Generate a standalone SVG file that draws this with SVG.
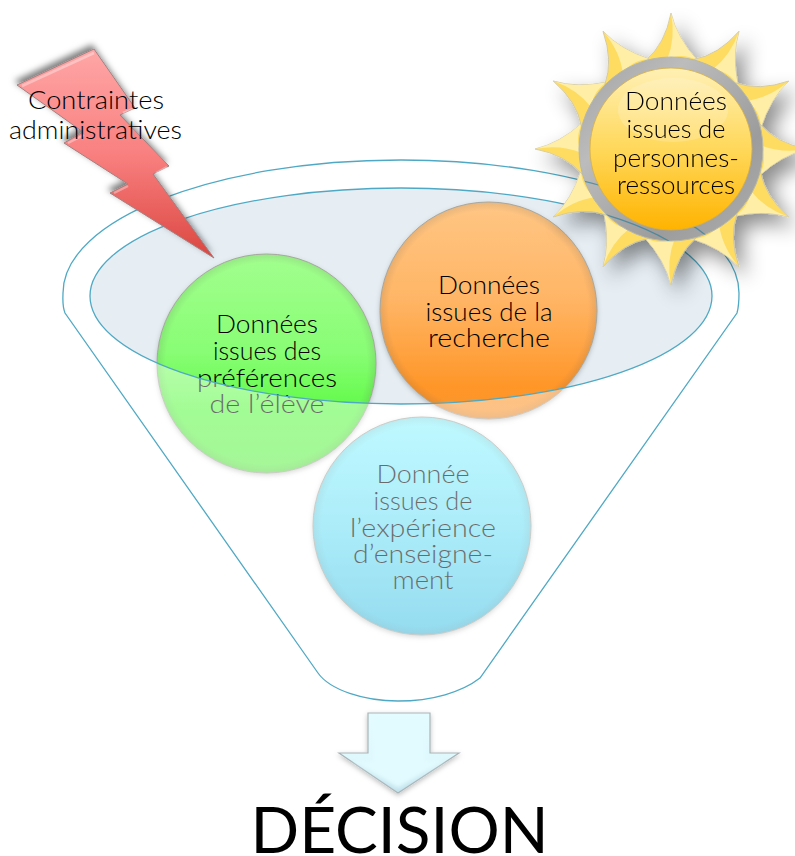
<svg xmlns="http://www.w3.org/2000/svg" xmlns:xlink="http://www.w3.org/1999/xlink" width="795" height="856" viewBox="0 0 795 856">
<style>
text{font-family:"Lato","Liberation Sans",sans-serif;font-weight:300;font-size:26px;fill:#000;text-anchor:middle}
.line{fill:none;stroke:#4fa9c4;stroke-width:1.3}
.edge{fill:url(#vignette);stroke:#a8a8a0;stroke-width:1}
</style>
<defs>
<linearGradient id="gGreen" x1="0" y1="0" x2="0" y2="1"><stop offset="0" stop-color="#a2ff8e"/><stop offset=".45" stop-color="#88fd74"/><stop offset=".72" stop-color="#60fa48"/><stop offset="1" stop-color="#66f050"/></linearGradient>
<linearGradient id="gOrange" x1="0" y1="0" x2="0" y2="1"><stop offset="0" stop-color="#ffc684"/><stop offset=".45" stop-color="#ffb565"/><stop offset=".85" stop-color="#ff9628"/><stop offset="1" stop-color="#f99530"/></linearGradient>
<linearGradient id="gBlue" x1="0" y1="0" x2="0" y2="1"><stop offset="0" stop-color="#91f5ff"/><stop offset=".5" stop-color="#70dff5"/><stop offset="1" stop-color="#48c3e5"/></linearGradient>
<radialGradient id="vignette" cx=".5" cy=".5" r=".5"><stop offset=".92" stop-color="#555" stop-opacity="0"/><stop offset="1" stop-color="#555" stop-opacity=".14"/></radialGradient>
<linearGradient id="gBolt" x1="0" y1="0" x2="0" y2="1"><stop offset="0" stop-color="#ffa6a6"/><stop offset=".5" stop-color="#f98080"/><stop offset="1" stop-color="#db4640"/></linearGradient>
<linearGradient id="gCore" x1="0" y1="0" x2="0" y2="1"><stop offset="0" stop-color="#fff0b4"/><stop offset=".5" stop-color="#ffd85a"/><stop offset="1" stop-color="#ffb300"/></linearGradient>
<linearGradient id="gRing" x1="0" y1="0" x2="1" y2="1"><stop offset="0" stop-color="#a0a0a0"/><stop offset=".3" stop-color="#bcbcbc"/><stop offset=".7" stop-color="#9c9c9c"/><stop offset="1" stop-color="#b0b0b0"/></linearGradient>
<linearGradient id="gArrow" x1="0" y1="0" x2="0" y2="1"><stop offset="0" stop-color="#e4fcff"/><stop offset=".55" stop-color="#dff8fd"/><stop offset="1" stop-color="#bfe0ea"/></linearGradient>
<filter id="soft" x="-10%" y="-10%" width="120%" height="120%"><feDropShadow dx="0" dy="2" stdDeviation="2.5" flood-color="#000" flood-opacity=".25"/></filter>
<filter id="boltShadow" x="-20%" y="-20%" width="140%" height="140%"><feDropShadow dx="-2" dy="-4" stdDeviation="3" flood-color="#000" flood-opacity=".5"/></filter>
<filter id="sunShadow" x="-25%" y="-25%" width="150%" height="150%"><feDropShadow dx="8" dy="10" stdDeviation="10" flood-color="#000" flood-opacity=".45"/></filter>
<filter id="blur2"><feGaussianBlur stdDeviation="2"/></filter>
<g id="ray">
<path d="M646 60Q665 44 671 13Q677 38 697 60Z" fill="#fedc62" stroke="#cfc6a0" stroke-width=".8"/>
<path d="M671 13Q677 38 697 60Q680 52 667 60Q676 38 671 13Z" fill="#fff3b8" opacity=".8"/>
</g>
<clipPath id="ringClip"><path clip-rule="evenodd" d="M579 149a92 92 0 1 0 184 0a92 92 0 1 0-184 0ZM590 149a81 81 0 1 0 162 0a81 81 0 1 0-162 0Z"/></clipPath>
<path id="funnelOutline" d="M65 313C62 305 63 298 63 293C63 219.500 214 160 401 160C588 160 739 219.500 739 293C739 300 739 306 737 313L480 678C462 692 432 701 398 701C364 701 330 690 318 673L65 313Z"/>
<ellipse id="rim" cx="401" cy="296" rx="311" ry="108"/>
</defs>

<ellipse id="funnel-rim-fill" cx="401" cy="296" rx="311" ry="108" fill="#e6eef4"/>

<g id="node-preferences">
<g filter="url(#soft)"><circle cx="266.500" cy="363.500" r="109.500" fill="url(#gGreen)"/></g>
<circle class="edge" cx="266.500" cy="363.500" r="109.500"/>
<text x="267" y="333" textLength="102" lengthAdjust="spacingAndGlyphs">Données</text>
<text x="267" y="360" textLength="108" lengthAdjust="spacingAndGlyphs">issues des</text>
<text x="267" y="387" textLength="140" lengthAdjust="spacingAndGlyphs">préférences</text>
<text x="267" y="413" textLength="115" lengthAdjust="spacingAndGlyphs">de l’élève</text>
</g>
<g id="node-recherche">
<g filter="url(#soft)"><circle cx="488.500" cy="310.500" r="108.500" fill="url(#gOrange)"/></g>
<circle class="edge" cx="488.500" cy="310.500" r="108.500"/>
<text x="489" y="294" textLength="102" lengthAdjust="spacingAndGlyphs">Données</text>
<text x="489" y="321" textLength="127" lengthAdjust="spacingAndGlyphs">issues de la</text>
<text x="489" y="347" textLength="122" lengthAdjust="spacingAndGlyphs">recherche</text>
</g>
<g id="node-experience">
<g filter="url(#soft)"><circle cx="422" cy="526" r="109" fill="url(#gBlue)"/></g>
<circle class="edge" cx="422" cy="526" r="109"/>
<text x="423" y="483" textLength="93" lengthAdjust="spacingAndGlyphs">Donnée</text>
<text x="423" y="510" textLength="99" lengthAdjust="spacingAndGlyphs">issues de</text>
<text x="423" y="537" textLength="146" lengthAdjust="spacingAndGlyphs">l’expérience</text>
<text x="423" y="563" textLength="140" lengthAdjust="spacingAndGlyphs">d’enseigne-</text>
<text x="423" y="589" textLength="61" lengthAdjust="spacingAndGlyphs">ment</text>
</g>

<g id="connectors">
<path id="funnel-veil" fill="#fff" fill-opacity=".42" fill-rule="evenodd" d="M65 313C62 305 63 298 63 293C63 219.500 214 160 401 160C588 160 739 219.500 739 293C739 300 739 306 737 313L480 678C462 692 432 701 398 701C364 701 330 690 318 673L65 313ZM90 296a311 108 0 1 0 622 0a311 108 0 1 0-622 0Z"/>
<use xlink:href="#funnelOutline" href="#funnelOutline" class="line"/>
<use xlink:href="#rim" href="#rim" class="line"/>
</g>

<g id="node-contraintes">
<path filter="url(#boltShadow)" d="M94 49L135 108L120 115L169 166L153 174L214 258L110 193L128 184L64 143L83 132L17 85Z" fill="url(#gBolt)" stroke="#a08080" stroke-width="1"/>
<path d="M22 86L94 53M123 113L133 109M156 173L167 167M114 193L128 186M68 143L84 135" fill="none" stroke="#fff" stroke-opacity=".35" stroke-width="2.500"/>
<text x="96" y="109" textLength="136" lengthAdjust="spacingAndGlyphs">Contraintes</text>
<text x="95.500" y="139" textLength="173" lengthAdjust="spacingAndGlyphs">administratives</text>
</g>

<g id="node-personnes">
<g filter="url(#sunShadow)">
<use xlink:href="#ray" href="#ray"/>
<use xlink:href="#ray" href="#ray" transform="rotate(30 671 149)"/>
<use xlink:href="#ray" href="#ray" transform="rotate(60 671 149)"/>
<use xlink:href="#ray" href="#ray" transform="rotate(90 671 149)"/>
<use xlink:href="#ray" href="#ray" transform="rotate(120 671 149)"/>
<use xlink:href="#ray" href="#ray" transform="rotate(150 671 149)"/>
<use xlink:href="#ray" href="#ray" transform="rotate(180 671 149)"/>
<use xlink:href="#ray" href="#ray" transform="rotate(210 671 149)"/>
<use xlink:href="#ray" href="#ray" transform="rotate(240 671 149)"/>
<use xlink:href="#ray" href="#ray" transform="rotate(270 671 149)"/>
<use xlink:href="#ray" href="#ray" transform="rotate(300 671 149)"/>
<use xlink:href="#ray" href="#ray" transform="rotate(330 671 149)"/>
<circle cx="671" cy="149" r="92" fill="url(#gRing)" stroke="#b8b8a8" stroke-width="1"/>
</g>
<g clip-path="url(#ringClip)" opacity=".7">
<use xlink:href="#funnelOutline" href="#funnelOutline" fill="none" stroke="#2f7f99" stroke-width="1.300"/>
<use xlink:href="#rim" href="#rim" fill="none" stroke="#2f7f99" stroke-width="1.300"/>
</g>
<circle cx="671" cy="149" r="81" fill="url(#gCore)" stroke="#d8b040" stroke-width=".8"/>
<ellipse cx="673" cy="110" rx="55" ry="32" fill="#fff" opacity=".18"/>
<text x="676" y="110" textLength="102" lengthAdjust="spacingAndGlyphs">Données</text>
<text x="676" y="138" textLength="99" lengthAdjust="spacingAndGlyphs">issues de</text>
<text x="676" y="167" textLength="126" lengthAdjust="spacingAndGlyphs">personnes-</text>
<text x="676" y="194" textLength="118" lengthAdjust="spacingAndGlyphs">ressources</text>
</g>

<g id="node-decision">
<path filter="url(#soft)" d="M368 713H430V753H459L398 793L339 753H368Z" fill="url(#gArrow)" stroke="#a9b4b8" stroke-width="1.200"/>
<path d="M373 718H425V760H445L398 788L352 760H373Z" fill="#e2fbff" filter="url(#blur2)"/>
<text x="399.500" y="853" style="font-size:64px;font-weight:400" textLength="298" lengthAdjust="spacingAndGlyphs">DÉCISION</text>
</g>
</svg>
